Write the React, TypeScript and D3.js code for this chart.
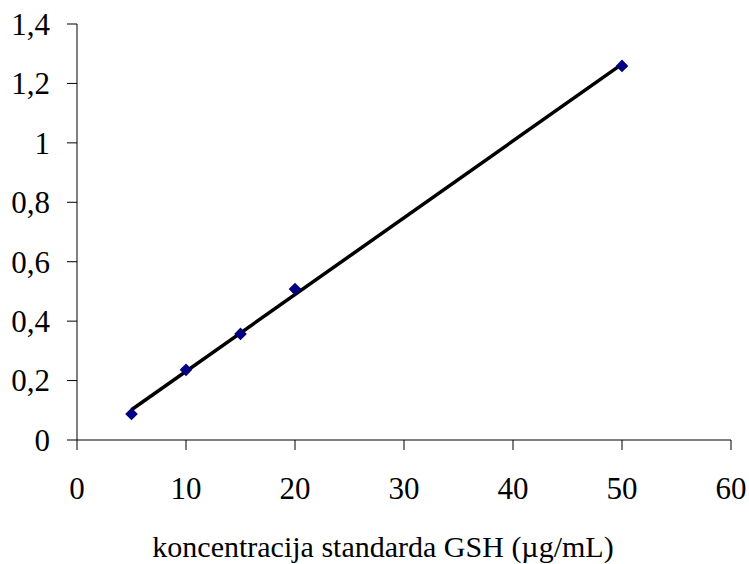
import React from "react";
import * as d3 from "d3";

const concentrations = [5, 10, 15, 20, 50];
const absorbances = [0.0875, 0.236, 0.357, 0.508, 1.259];
const xTicks = [0, 10, 20, 30, 40, 50, 60];
const yTicks = [0, 0.2, 0.4, 0.6, 0.8, 1.0, 1.2, 1.4];
const xTitle = "koncentracija standarda GSH (µg/mL)";

const W = 749;
const H = 564;
const left = 77;
const right = 731;
const top = 24;
const bottom = 440;
const font = "'Liberation Serif', 'Times New Roman', serif";
const fs = 31;

export default function App() {
  const x = d3.scaleLinear().domain([0, 60]).range([left, right]);
  const y = d3.scaleLinear().domain([0, 1.4]).range([bottom, top]);

  const mx = d3.mean(concentrations)!;
  const my = d3.mean(absorbances)!;
  let sxy = 0, sxx = 0;
  concentrations.forEach((c, i) => {
    sxy += (c - mx) * (absorbances[i] - my);
    sxx += (c - mx) * (c - mx);
  });
  const slope = sxy / sxx;
  const intercept = my - slope * mx;
  const x0 = d3.min(concentrations)!;
  const x1 = d3.max(concentrations)!;
  const trend = d3.line<number>()
    .x((d) => x(d))
    .y((d) => y(intercept + slope * d))([x0, x1]);

  const fmt = (v: number) => d3.format("~g")(+v.toFixed(1)).replace(".", ",");
  const diamond = d3.symbol().type(d3.symbolSquare).size(80)();

  return (
    <svg width={W} height={H} style={{ position: "absolute", left: 0, top: 0, background: "#fff" }}>
      <rect width={W} height={H} fill="#fff" />
      <line x1={left} x2={left} y1={top} y2={bottom} stroke="#000" strokeWidth={1} />
      <line x1={left} x2={right} y1={bottom} y2={bottom} stroke="#000" strokeWidth={1} />
      {yTicks.map((t) => (
        <g key={"y" + t}>
          <line x1={left - 10} x2={left} y1={y(t)} y2={y(t)} stroke="#000" strokeWidth={1} />
          <text x={50} y={y(t)} dy="0.35em" textAnchor="end" fontFamily={font} fontSize={fs}>
            {fmt(t)}
          </text>
        </g>
      ))}
      {xTicks.map((t) => (
        <g key={"x" + t}>
          <line x1={x(t)} x2={x(t)} y1={bottom} y2={bottom + 10} stroke="#000" strokeWidth={1} />
          <text x={x(t)} y={499} textAnchor="middle" fontFamily={font} fontSize={fs}>
            {t}
          </text>
        </g>
      ))}
      <text x={383} y={557} textAnchor="middle" fontFamily={font} fontSize={30}>
        {xTitle}
      </text>
      <path d={trend ?? ""} stroke="#000" strokeWidth={3.5} fill="none" />
      {concentrations.map((c, i) => (
        <path
          key={c}
          d={diamond ?? ""}
          transform={`translate(${x(c)},${y(absorbances[i])}) rotate(45)`}
          fill="#000080"
        />
      ))}
    </svg>
  );
}
